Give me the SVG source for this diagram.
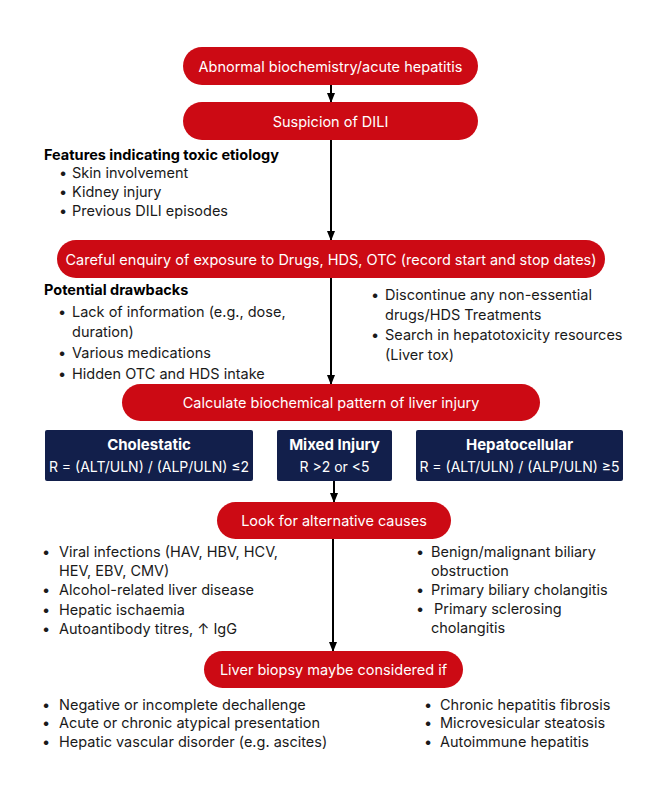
<svg xmlns="http://www.w3.org/2000/svg" width="668" height="785" viewBox="0 0 668 785">
<defs>
<marker id="ah" markerWidth="10" markerHeight="8" refX="9" refY="4" orient="auto" markerUnits="userSpaceOnUse"><path d="M0,0 L10,4 L0,8 z" fill="#000"/></marker>
<style>
.red{fill:#cc0a14;}
.navy{fill:#121f4b;}
.bt{font-family:Inter,"Noto Sans",sans-serif;font-size:14.5px;fill:#fff;text-anchor:middle;dominant-baseline:central;}
.bh{font-family:Inter,"Noto Sans",sans-serif;font-size:15px;font-weight:bold;fill:#fff;text-anchor:middle;}
.bs{font-family:Inter,"Noto Sans",sans-serif;font-size:14px;fill:#fff;text-anchor:middle;}
.t{font-family:Inter,"Noto Sans",sans-serif;font-size:14.5px;fill:#1a1a1a;}
.h{font-family:Inter,"Noto Sans",sans-serif;font-size:14.5px;font-weight:bold;fill:#000;}
.c{stroke:#000;stroke-width:2;fill:none;marker-end:url(#ah);}
</style>
</defs>
<rect width="668" height="785" fill="#fff"/>
<g id="connectors">
<line class="c" x1="331" y1="85" x2="331" y2="102"/>
<line class="c" x1="331" y1="140" x2="331" y2="240"/>
<line class="c" x1="331" y1="278" x2="331" y2="384"/>
<line class="c" x1="334" y1="481" x2="334" y2="502"/>
<line class="c" x1="333" y1="539" x2="333" y2="651"/>
</g>
<g id="n1"><rect class="red" x="183" y="47" width="295" height="38" rx="19"/><text class="bt" x="330.5" y="66">Abnormal biochemistry/acute hepatitis</text></g>
<g id="n2"><rect class="red" x="183" y="102" width="295" height="38" rx="19"/><text class="bt" x="330.5" y="121">Suspicion of DILI</text></g>
<g id="features">
<text class="h" x="44" y="160">Features indicating toxic etiology</text>
<text class="t" x="59" y="178">•</text><text class="t" x="72" y="178">Skin involvement</text>
<text class="t" x="59" y="197">•</text><text class="t" x="72" y="197">Kidney injury</text>
<text class="t" x="59" y="216">•</text><text class="t" x="72" y="216">Previous DILI episodes</text>
</g>
<g id="n3"><rect class="red" x="57" y="240" width="548" height="38" rx="19"/><text class="bt" x="331" y="259">Careful enquiry of exposure to Drugs, HDS, OTC (record start and stop dates)</text></g>
<g id="drawbacks">
<text class="h" x="44" y="295">Potential drawbacks</text>
<text class="t" x="58" y="317">•</text><text class="t" x="72" y="317">Lack of information (e.g., dose,</text>
<text class="t" x="72" y="337">duration)</text>
<text class="t" x="58" y="358">•</text><text class="t" x="72" y="358">Various medications</text>
<text class="t" x="58" y="379">•</text><text class="t" x="72" y="379">Hidden OTC and HDS intake</text>
</g>
<g id="actions">
<text class="t" x="371" y="300">•</text><text class="t" x="385" y="300">Discontinue any non-essential</text>
<text class="t" x="385" y="320">drugs/HDS Treatments</text>
<text class="t" x="371" y="340">•</text><text class="t" x="385" y="340">Search in hepatotoxicity resources</text>
<text class="t" x="385" y="360">(Liver tox)</text>
</g>
<g id="n4"><rect class="red" x="122" y="384" width="418" height="37" rx="18.5"/><text class="bt" x="331" y="402.5">Calculate biochemical pattern of liver injury</text></g>
<g id="cholestatic"><rect class="navy" x="45" y="430" width="208" height="51" rx="2"/><text class="bh" x="149" y="450">Cholestatic</text><text class="bs" x="149" y="472">R = (ALT/ULN) / (ALP/ULN) ≤2</text></g>
<g id="mixed"><rect class="navy" x="277" y="430" width="115" height="51" rx="2"/><text class="bh" x="334.5" y="450">Mixed Injury</text><text class="bs" x="334.5" y="472">R &gt;2 or &lt;5</text></g>
<g id="hepatocellular"><rect class="navy" x="416" y="430" width="207" height="51" rx="2"/><text class="bh" x="519.5" y="450">Hepatocellular</text><text class="bs" x="519.5" y="472">R = (ALT/ULN) / (ALP/ULN) ≥5</text></g>
<g id="n5"><rect class="red" x="217" y="502" width="234" height="37" rx="18.5"/><text class="bt" x="334" y="520.5">Look for alternative causes</text></g>
<g id="alt-left">
<text class="t" x="42" y="557">•</text><text class="t" x="59" y="557">Viral infections (HAV, HBV, HCV,</text>
<text class="t" x="59" y="576">HEV, EBV, CMV)</text>
<text class="t" x="42" y="595">•</text><text class="t" x="59" y="595">Alcohol-related liver disease</text>
<text class="t" x="42" y="615">•</text><text class="t" x="59" y="615">Hepatic ischaemia</text>
<text class="t" x="42" y="634">•</text><text class="t" x="59" y="634">Autoantibody titres, ↑ IgG</text>
</g>
<g id="alt-right">
<text class="t" x="416" y="557">•</text><text class="t" x="431" y="557">Benign/malignant biliary</text>
<text class="t" x="431" y="576">obstruction</text>
<text class="t" x="416" y="595">•</text><text class="t" x="431" y="595">Primary biliary cholangitis</text>
<text class="t" x="416" y="614">•</text><text class="t" x="434" y="614">Primary sclerosing</text>
<text class="t" x="431" y="633">cholangitis</text>
</g>
<g id="n6"><rect class="red" x="204" y="651" width="259" height="37" rx="18.5"/><text class="bt" x="333.5" y="669.5">Liver biopsy maybe considered if</text></g>
<g id="biopsy-left">
<text class="t" x="42" y="710">•</text><text class="t" x="59" y="710">Negative or incomplete dechallenge</text>
<text class="t" x="42" y="728">•</text><text class="t" x="59" y="728">Acute or chronic atypical presentation</text>
<text class="t" x="42" y="747">•</text><text class="t" x="59" y="747">Hepatic vascular disorder (e.g. ascites)</text>
</g>
<g id="biopsy-right">
<text class="t" x="424" y="710">•</text><text class="t" x="440" y="710">Chronic hepatitis fibrosis</text>
<text class="t" x="424" y="728">•</text><text class="t" x="440" y="728">Microvesicular steatosis</text>
<text class="t" x="424" y="747">•</text><text class="t" x="440" y="747">Autoimmune hepatitis</text>
</g>
</svg>
